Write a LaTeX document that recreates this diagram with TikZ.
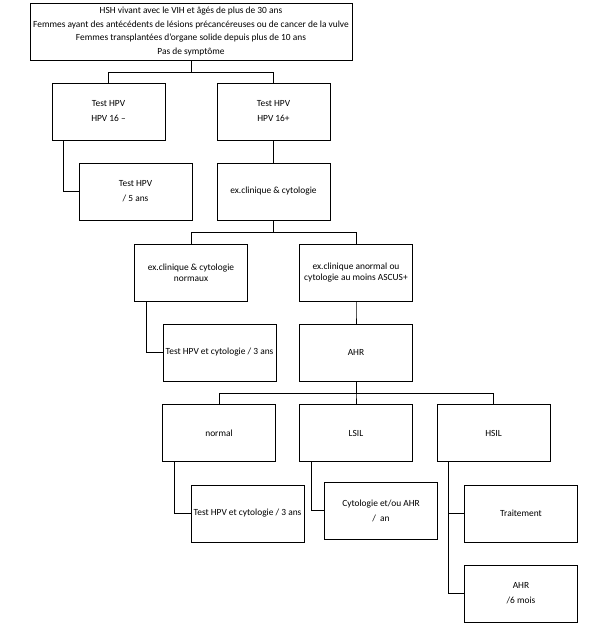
\documentclass[tikz,border=0pt]{standalone}
\usepackage{fontspec}
\setmainfont{Carlito}
\usepackage{tikz}

\begin{document}
\begin{tikzpicture}
  [x=1pt,y=-1pt,line width=.9pt,
   every node/.style={draw,align=center,inner sep=0pt,font=\fontsize{9.4}{10.6}\selectfont},
   box/.style={minimum width=113pt,minimum height=57pt}]
  \useasboundingbox (0,0) rectangle (610,624);
  \node[minimum width=322pt,minimum height=57pt] (root) at (191,31.5)
    {HSH vivant avec le VIH et âgés de plus de 30 ans\\[3.2pt]
     Femmes ayant des antécédents de lésions précancéreuses ou de cancer de la vulve\\[3.2pt]
     Femmes transplantées d’organe solide depuis plus de 10 ans\\[3.2pt]
     Pas de symptôme};
  \node[box] (hpvneg) at (108.5,111.5) {Test HPV\\[4.4pt]HPV 16 --};
  \node[box] (hpvpos) at (273.5,111.5) {Test HPV\\[4.4pt]HPV 16+};
  \node[box] (hpvcinq) at (135.5,191.5) {Test HPV\\[4.4pt]/ 5 ans};
  \node[box] (excli) at (273.5,191.5) {ex.clinique \& cytologie};
  \node[box] (normaux) at (191,272.5) {ex.clinique \& cytologie\\normaux};
  \node[box] (anormal) at (356,272.5) {ex.clinique anormal ou\\cytologie au moins ASCUS+};
  \node[box] (troisa) at (219.5,352.5) {Test HPV et cytologie / 3 ans};
  \node[box] (ahr) at (356,352.5) {AHR};
  \node[box] (normal) at (219,433) {normal};
  \node[box] (lsil) at (356,433) {LSIL};
  \node[box] (hsil) at (493.5,433) {HSIL};
  \node[box] (troisb) at (247.5,513.5) {Test HPV et cytologie / 3 ans};
  \node[box] (cytan) at (381,510.5) {Cytologie et/ou AHR\\[4.4pt]/~~an};
  \node[box] (trait) at (521,513.5) {Traitement};
  \node[box] (ahrsix) at (521,593.5) {AHR\\[4.4pt]/6 mois};

  \foreach \from/\to in {root/hpvneg,root/hpvpos,hpvpos/excli,excli/normaux,excli/anormal,
                         anormal/ahr,ahr/normal,ahr/lsil,ahr/hsil}
    \draw (\from.south) -- ++(0,12) -| (\to.north);
  \foreach \from/\to in {hpvneg/hpvcinq,normaux/troisa,normal/troisb,lsil/cytan,hsil/trait,hsil/ahrsix}
    \draw ([xshift=12pt]\from.south west) |- (\to.west);
\end{tikzpicture}
\end{document}
